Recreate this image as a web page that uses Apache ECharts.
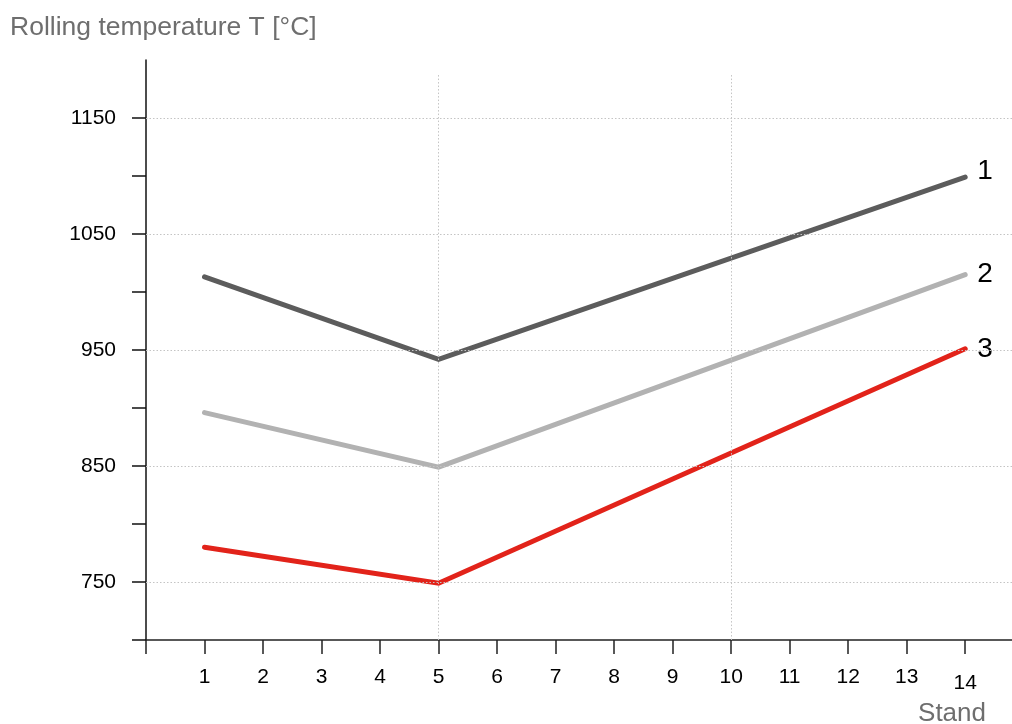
<!DOCTYPE html>
<html>
<head>
<meta charset="utf-8">
<script src="https://cdn.jsdelivr.net/npm/echarts@6/dist/echarts.min.js"></script>
<style>html,body{margin:0;padding:0;background:#fff;}#c{width:1012px;height:724px;}</style>
</head>
<body>
<div id="c"></div>
<script>
const stands = [1, 5, 14];
const curve1 = [1013, 942, 1099];
const curve2 = [896, 849, 1015];
const curve3 = [780, 749, 951];
const curveNames = ['1', '2', '3'];
const xTickValues = [0,1,2,3,4,5,6,7,8,9,10,11,12,13,14];
const xLabelValues = [1,2,3,4,5,6,7,8,9,10,11,12,13,14];
const yTickValues = [700,750,800,850,900,950,1000,1050,1100,1150];
const yLabelValues = [750,850,950,1050,1150];
const hGrid = [750,850,950,1050,1150];
const vGrid = [5,10];
const gridTop = 1187;

const FONT = '"Liberation Sans", Arial, sans-serif';
const colors = ['#5c5c5c', '#b2b2b2', '#e2231a'];

function pts(vals){ return stands.map((s,i)=>[s, vals[i]]); }

const gridStyle = {color:'#c4c4c4', width:1, type:[1.5,2]};

const series = [curve1, curve2, curve3].map((vals, k) => ({
  type:'line',
  data: pts(vals),
  symbol:'none',
  lineStyle:{color:colors[k], width:5, cap:'round', join:'miter'},
  itemStyle:{color:colors[k]},
  silent:true,
  z: 3,
  endLabel:{
    show:true,
    formatter: curveNames[k],
    fontFamily: FONT,
    fontSize: 28,
    color:'#000',
    distance: 12,
    offset: k === 0 ? [0,-6] : [0,0]
  }
}));

series.push({
  type:'line',
  data:[],
  silent:true,
  markLine:{
    silent:true,
    symbol:['none','none'],
    label:{show:false},
    lineStyle:gridStyle,
    animation:false,
    data: hGrid.map(v=>({yAxis:v})).concat(
      vGrid.map(v=>[{coord:[v,gridTop]},{coord:[v,700]}])
    )
  },
  z:1
});

const chart = echarts.init(document.getElementById('c'));
chart.setOption({
  animation:false,
  backgroundColor:'#fff',
  title:[
    {text:'Rolling temperature T [°C]', left:5, top:9,
     textStyle:{fontFamily:FONT, fontSize:26.5, fontWeight:'normal', color:'#6e6e6e'}},
    {text:'Stand', right:21, top:696,
     textStyle:{fontFamily:FONT, fontSize:26, fontWeight:'normal', color:'#6e6e6e'}}
  ],
  grid:{left:146, right:0, top:60, bottom:84, containLabel:false},
  xAxis:{
    type:'value', min:0, max:14.8,
    axisLine:{show:true, onZero:false, lineStyle:{color:'#222', width:1.5}},
    axisTick:{show:true, length:14, customValues:xTickValues, lineStyle:{color:'#222', width:1.5}},
    axisLabel:{
      customValues:xLabelValues, margin:27,
      fontFamily:FONT, fontSize:21, color:'#000',
      formatter: v => v === 14 ? '{low|14}' : String(v),
      rich:{low:{fontFamily:FONT, fontSize:21, color:'#000', padding:[6,0,0,0]}}
    },
    splitLine:{show:false}
  },
  yAxis:{
    type:'value', min:700, max:1200,
    axisLine:{show:true, onZero:false, lineStyle:{color:'#111', width:1.5}},
    axisTick:{show:true, length:14, customValues:yTickValues, lineStyle:{color:'#111', width:1.5}},
    axisLabel:{customValues:yLabelValues, margin:30, fontFamily:FONT, fontSize:21, color:'#000',
      formatter: v => String(v)},
    splitLine:{show:false}
  },
  series: series
});
</script>
</body>
</html>
